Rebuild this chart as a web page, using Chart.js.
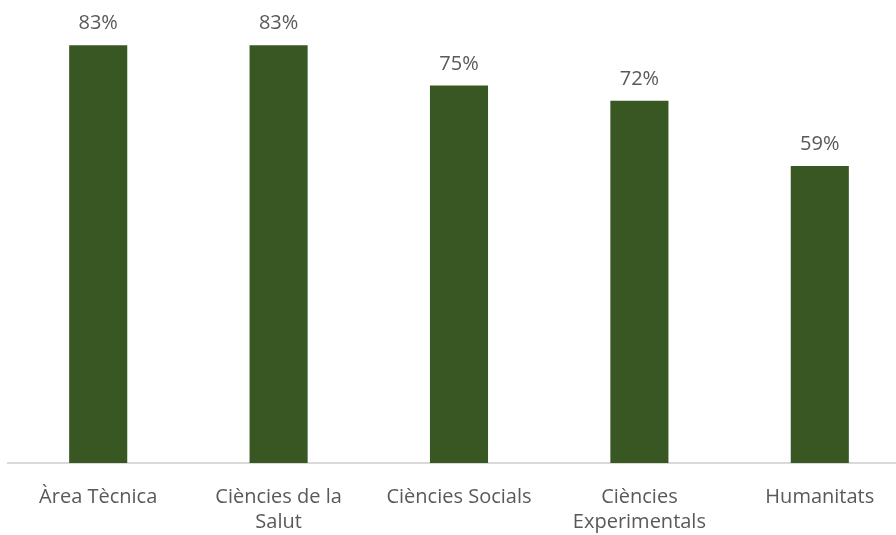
<!DOCTYPE html>
<html lang="ca">
<head>
    <meta charset="UTF-8">
    <title>Gràfic</title>
    <style>
        html, body { margin: 0; padding: 0; overflow: hidden; background: #fff; }
        #wrap { position: relative; width: 910px; height: 535px; }
    </style>
</head>
<body>
    <script src="https://cdn.jsdelivr.net/npm/chart.js@4.4.1/dist/chart.umd.min.js"></script>
    <div id="wrap"><canvas id="grafic"></canvas></div>
    <script>
        var categories = [
            'Àrea Tècnica',
            ['Ciències de la', 'Salut'],
            'Ciències Socials',
            ['Ciències', 'Experimentals'],
            'Humanitats'
        ];
        var percentatges = [83, 83, 75, 72, 59];

        var colorBarra = '#385723';
        var colorText = '#595959';
        var font = '"Open Sans", Lato, sans-serif';

        // etiquetes de valor damunt de cada barra
        var etiquetes = {
            id: 'etiquetes',
            afterDatasetsDraw: function (chart) {
                var ctx = chart.ctx;
                var meta = chart.getDatasetMeta(0);
                ctx.save();
                ctx.fillStyle = colorText;
                ctx.font = '20px ' + font;
                ctx.textAlign = 'center';
                ctx.textBaseline = 'alphabetic';
                meta.data.forEach(function (bar, i) {
                    ctx.fillText(percentatges[i] + '%', bar.x, bar.y - 16);
                });
                ctx.restore();
            }
        };

        window.onload = function () {
            var ctx = document.getElementById('grafic').getContext('2d');
            window.grafic = new Chart(ctx, {
                type: 'bar',
                data: {
                    labels: categories,
                    datasets: [{
                        data: percentatges,
                        backgroundColor: colorBarra,
                        borderWidth: 0,
                        barPercentage: 0.322,
                        categoryPercentage: 1
                    }]
                },
                options: {
                    responsive: true,
                    maintainAspectRatio: false,
                    animation: false,
                    devicePixelRatio: 1,
                    layout: { padding: { left: 8, right: 0, top: 0, bottom: 0 } },
                    plugins: {
                        legend: { display: false },
                        tooltip: { enabled: false }
                    },
                    scales: {
                        x: {
                            grid: { display: false, drawTicks: false },
                            border: { display: true, color: '#d9d9d9', width: 2 },
                            ticks: {
                                color: colorText,
                                font: { family: font, size: 20, lineHeight: 1.25 },
                                padding: 22,
                                maxRotation: 0,
                                autoSkip: false
                            },
                            afterFit: function (scale) { scale.height = 72; }
                        },
                        y: {
                            display: false,
                            min: 0,
                            max: 92
                        }
                    }
                },
                plugins: [etiquetes]
            });
        };
    </script>
</body>
</html>
